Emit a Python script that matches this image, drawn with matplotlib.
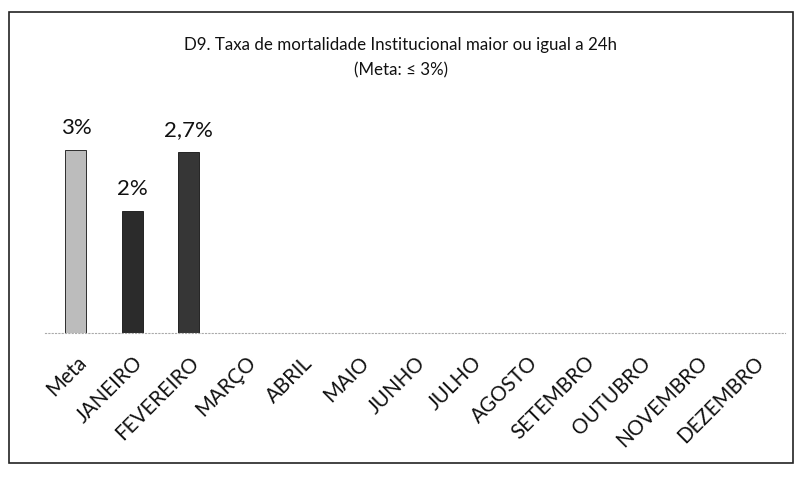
import matplotlib
matplotlib.use('Agg')
import matplotlib.pyplot as plt
from matplotlib.patches import Rectangle

# categories and values
categories = ['Meta', 'JANEIRO', 'FEVEREIRO', 'MARÇO', 'ABRIL', 'MAIO', 'JUNHO',
              'JULHO', 'AGOSTO', 'SETEMBRO', 'OUTUBRO', 'NOVEMBRO', 'DEZEMBRO']
values = [3.0, 2.0, 2.97, 0, 0, 0, 0, 0, 0, 0, 0, 0, 0]
value_labels = ['3%', '2%', '2,7%', '', '', '', '', '', '', '', '', '', '']
bar_colors = ['#bcbcbc', '#2b2b2b', '#363636'] + ['#333333'] * 10

plt.rcParams['font.family'] = ['Lato', 'DejaVu Sans']

fig = plt.figure(figsize=(8.01, 4.78), dpi=100)
ax = fig.add_axes([0.056, 0.303, 0.924, 0.467])

x = range(len(categories))
bars = ax.bar(x, values, width=0.37, color=bar_colors, edgecolor='#111111', linewidth=0.6)

# value labels above the bars
for rect, lab in zip(bars, value_labels):
    if lab:
        ax.text(rect.get_x() + rect.get_width() / 2, rect.get_height() + 0.2, lab,
                ha='center', va='bottom', fontsize=16, color='#111111')

ax.set_xlim(-0.55, len(categories) - 0.45)
ax.set_ylim(0, 3.66)
ax.set_xticks(list(x))
ax.set_xticklabels(categories, rotation=45, ha='right', rotation_mode='anchor',
                   fontsize=14.8, color='#111111')
ax.tick_params(axis='x', length=0, pad=14)
ax.set_yticks([])
for side in ['top', 'right', 'left']:
    ax.spines[side].set_visible(False)
ax.spines['bottom'].set_color('#aaaaaa')
ax.spines['bottom'].set_linestyle((0, (1, 2)))
ax.spines['bottom'].set_linewidth(0.8)

fig.text(0.5, 0.905, 'D9. Taxa de mortalidade Institucional maior ou igual a 24h',
         ha='center', va='center', fontsize=12.2, color='#111111')
fig.text(0.5, 0.853, '(Meta: ≤ 3%)', ha='center', va='center', fontsize=12.2, color='#111111')

# chart border
fig.patches.append(Rectangle((9 / 801, 1 - 463 / 478), 784 / 801, 451 / 478,
                             transform=fig.transFigure, fill=False,
                             edgecolor='#222222', linewidth=1.2))

fig.savefig('out.png', dpi=100)
plt.close(fig)
